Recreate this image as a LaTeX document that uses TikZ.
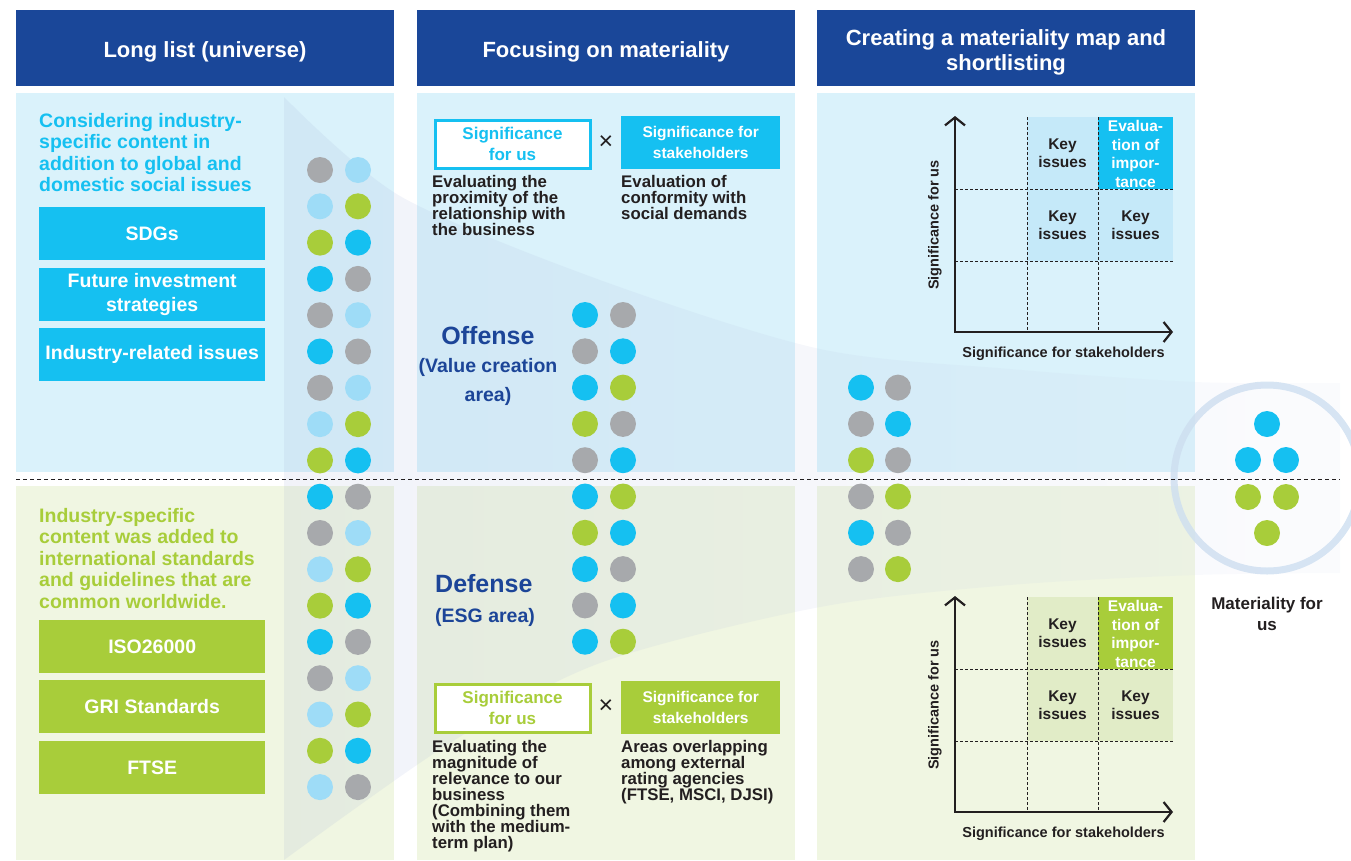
\documentclass[tikz,border=0pt]{standalone}
\usepackage{fontspec}
\setmainfont{Liberation Sans}
\usetikzlibrary{arrows.meta,positioning}

\definecolor{headblue}{RGB}{26,71,153}
\definecolor{skypanel}{RGB}{218,242,251}
\definecolor{limepanel}{RGB}{240,246,226}
\definecolor{brightcyan}{RGB}{21,192,241}
\definecolor{brightlime}{RGB}{168,205,58}
\definecolor{dotgrey}{RGB}{167,169,172}
\definecolor{dotsky}{RGB}{158,220,247}
\definecolor{cellsky}{RGB}{197,233,249}
\definecolor{celllime}{RGB}{225,236,199}
\definecolor{navyink}{RGB}{28,69,152}
\definecolor{darkink}{RGB}{35,31,32}
\definecolor{funnelA}{RGB}{150,165,210}
\definecolor{funnelB}{RGB}{165,178,215}
\definecolor{funnelC}{RGB}{220,226,242}
\definecolor{ringsky}{RGB}{205,222,240}

\newcommand\setfs[2]{\fontsize{#1}{#2}\selectfont\bfseries\lineskiplimit=-10pt}

\def\colWidth{378}
\def\headTop{10}
\def\headBottom{86}
\def\upperTop{93}
\def\upperBottom{472}
\def\lowerTop{486}
\def\lowerBottom{860}
\def\dotRadius{13pt}
\def\dotStep{36.3}

\tikzset{
  headtext/.style={text=white, font=\setfs{22}{25}, align=center, inner sep=0},
  listbox/.style={anchor=north west, minimum width=226pt, minimum height=53pt,
    inner sep=0, text=white, font=\setfs{19.5}{24}, align=center},
  leadtext/.style={anchor=north west, inner sep=0, align=left, font=\setfs{19.5}{21.5}},
  sigline/.style={anchor=north west, minimum width=155pt, minimum height=48pt,
    inner sep=0, line width=3pt, fill=white, align=center, font=\setfs{17}{21}},
  sigfill/.style={anchor=north west, minimum width=159pt, minimum height=53pt,
    inner sep=0, text=white, align=center, font=\setfs{15.5}{21}},
  crosstext/.style={inner sep=0, text=darkink, font=\fontsize{25}{25}\selectfont},
  desctext/.style={anchor=north west, inner sep=0, align=left, text=darkink,
    font=\setfs{16.8}{16}},
  areatext/.style={inner sep=0, text=navyink},
  celltext/.style={inner sep=0, align=center, text=darkink, font=\setfs{15.5}{18.5}},
  axislabel/.style={inner sep=0, text=darkink, font=\setfs{14.5}{17}},
  gridline/.style={dash pattern=on 3pt off 2pt, line width=.8pt, darkink},
  axisline/.style={line width=2.2pt, darkink,
    {Straight Barb[length=8pt,width=20pt,line width=2.2pt]}-{Straight Barb[length=8pt,width=20pt,line width=2.2pt]}},
}

\begin{document}
\begin{tikzpicture}[x=1pt,y=-1pt]
  \useasboundingbox (0,0) rectangle (1351,860);

  %% column heads and panels
  \foreach \cx in {16,417,817} {
    \fill[headblue] (\cx,\headTop) rectangle ++(\colWidth,{\headBottom-\headTop});
    \fill[skypanel] (\cx,\upperTop) rectangle ++(\colWidth,{\upperBottom-\upperTop});
    \fill[limepanel] (\cx,\lowerTop) rectangle ++(\colWidth,{\lowerBottom-\lowerTop});
  }
  \node[headtext, anchor=base] (hdrlong) at (205,57) {Long list (universe)};
  \node[headtext, anchor=base] (hdrfocus) at (606,57) {Focusing on materiality};
  \node[headtext, anchor=north] (hdrmap) at (1006,29) {Creating a materiality map and\\shortlisting};

  %% funnel
  \shade[left color=funnelA, middle color=funnelB, right color=funnelC, opacity=.13]
    plot[smooth] coordinates {(284,97) (400,196) (600,280) (820,349) (1010,369) (1195,382) (1340,383)}
    -- plot[smooth] coordinates {(1340,573) (1195,575) (1010,585) (820,607) (600,663) (450,743) (284,860)}
    -- cycle;
  \draw[ringsky, line width=7pt, opacity=.8] (1267,478) circle (93pt);
  \draw[dash pattern=on 4pt off 3pt, line width=.8pt, darkink] (16,479) -- (1340,479);

  %% long list
  \node[leadtext, text=brightcyan] (leadsky) at (39,113)
    {Considering industry-\\specific content in\\addition to global and\\domestic social issues};
  \node[listbox, fill=brightcyan] (sdgs) at (39,207) {SDGs};
  \node[listbox, fill=brightcyan] (future) at (39,268) {Future investment\\strategies};
  \node[listbox, fill=brightcyan] (industry) at (39,328) {Industry-related issues};
  \node[leadtext, text=brightlime] (leadlime) at (39,508)
    {Industry-specific\\content was added to\\international standards\\and guidelines that are\\common worldwide.};
  \node[listbox, fill=brightlime] (iso) at (39,620) {ISO26000};
  \node[listbox, fill=brightlime] (gri) at (39,680) {GRI Standards};
  \node[listbox, fill=brightlime] (ftse) at (39,741) {FTSE};

  %% focusing
  \node[sigline, draw=brightcyan, text=brightcyan] (usupper) at (433.5,118.5) {Significance\\for us};
  \node[crosstext] (crossupper) at (606,143) {×};
  \node[sigfill, fill=brightcyan] (stakeupper) at (621,116) {Significance for\\stakeholders};
  \node[desctext] (descusupper) at (432,175)
    {Evaluating the\\proximity of the\\relationship with\\the business};
  \node[desctext] (descstakeupper) at (621,175)
    {Evaluation of\\conformity with\\social demands};
  \node[areatext, anchor=base, font=\setfs{25}{25}] (offense) at (488,344) {Offense};
  \node[areatext, anchor=north, align=center, font=\setfs{19.5}{29}] (offensesub) at (488,358)
    {(Value creation\\area)};
  \node[areatext, anchor=base west, font=\setfs{25}{25}] (defense) at (435,592) {Defense};
  \node[areatext, anchor=base west, font=\setfs{19.5}{20}] (defensesub) at (435,622) {(ESG area)};
  \node[sigline, draw=brightlime, text=brightlime] (uslower) at (433.5,682.5) {Significance\\for us};
  \node[crosstext] (crosslower) at (606,707) {×};
  \node[sigfill, fill=brightlime] (stakelower) at (621,681) {Significance for\\stakeholders};
  \node[desctext] (descuslower) at (432,740)
    {Evaluating the\\magnitude of\\relevance to our\\business\\(Combining them\\with the medium-\\term plan)};
  \node[desctext] (descstakelower) at (621,740)
    {Areas overlapping\\among external\\rating agencies\\(FTSE, MSCI, DJSI)};

  %% materiality maps
  \foreach \ytop/\cellcol/\hotcol in {117/cellsky/brightcyan, 597/celllime/brightlime} {
    \fill[\cellcol] (1027,\ytop) rectangle (1173,{\ytop+144});
    \fill[\hotcol] (1098,\ytop) rectangle (1173,{\ytop+72});
    \foreach \gx in {1027,1098}
      \draw[gridline] (\gx,\ytop) -- (\gx,{\ytop+215});
    \foreach \gy in {72,144}
      \draw[gridline] (955,{\ytop+\gy}) -- (1173,{\ytop+\gy});
    \draw[axisline] (955,{\ytop-1}) -- (955,{\ytop+215}) -- (1173,{\ytop+215});
    \node[celltext] (keyhi\ytop) at (1062.5,{\ytop+36}) {Key\\issues};
    \node[celltext, text=white] (evalhi\ytop) at (1135.5,{\ytop+37}) {Evalua-\\tion of\\impor-\\tance};
    \node[celltext] (keymid\ytop) at (1062.5,{\ytop+108}) {Key\\issues};
    \node[celltext] (keyright\ytop) at (1135.5,{\ytop+108}) {Key\\issues};
    \node[axislabel, rotate=90] (ylabel\ytop) at (935,{\ytop+108}) {Significance for us};
    \node[axislabel, anchor=base] (xlabel\ytop) at (1063.5,{\ytop+240}) {Significance for stakeholders};
  }

  %% dots
  \foreach \k/\a/\b in {0/dotgrey/dotsky, 1/dotsky/brightlime, 2/brightlime/brightcyan,
      3/brightcyan/dotgrey, 4/dotgrey/dotsky, 5/brightcyan/dotgrey, 6/dotgrey/dotsky,
      7/dotsky/brightlime, 8/brightlime/brightcyan, 9/brightcyan/dotgrey, 10/dotgrey/dotsky,
      11/dotsky/brightlime, 12/brightlime/brightcyan, 13/brightcyan/dotgrey, 14/dotgrey/dotsky,
      15/dotsky/brightlime, 16/brightlime/brightcyan, 17/dotsky/dotgrey} {
    \fill[\a] (320,{170+\dotStep*\k}) circle (\dotRadius);
    \fill[\b] (358,{170+\dotStep*\k}) circle (\dotRadius);
  }
  \foreach \k/\a/\b in {0/brightcyan/dotgrey, 1/dotgrey/brightcyan, 2/brightcyan/brightlime,
      3/brightlime/dotgrey, 4/dotgrey/brightcyan, 5/brightcyan/brightlime, 6/brightlime/brightcyan,
      7/brightcyan/dotgrey, 8/dotgrey/brightcyan, 9/brightcyan/brightlime} {
    \fill[\a] (585,{315+\dotStep*\k}) circle (\dotRadius);
    \fill[\b] (623,{315+\dotStep*\k}) circle (\dotRadius);
  }
  \foreach \k/\a/\b in {0/brightcyan/dotgrey, 1/dotgrey/brightcyan, 2/brightlime/dotgrey,
      3/dotgrey/brightlime, 4/brightcyan/dotgrey, 5/dotgrey/brightlime} {
    \fill[\a] (861,{387.6+\dotStep*\k}) circle (\dotRadius);
    \fill[\b] (898,{387.6+\dotStep*\k}) circle (\dotRadius);
  }

  %% materiality for us
  \fill[brightcyan] (1267,424) circle (\dotRadius);
  \fill[brightcyan] (1248,460) circle (\dotRadius);
  \fill[brightcyan] (1286,460) circle (\dotRadius);
  \fill[brightlime] (1248,497) circle (\dotRadius);
  \fill[brightlime] (1286,497) circle (\dotRadius);
  \fill[brightlime] (1267,533) circle (\dotRadius);
  \node[anchor=north, align=center, inner sep=0, text=darkink, font=\setfs{17}{21}] (matlabel)
    at (1267,597) {Materiality for\\us};
\end{tikzpicture}
\end{document}
